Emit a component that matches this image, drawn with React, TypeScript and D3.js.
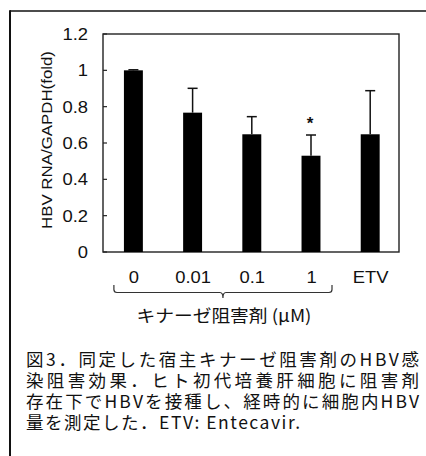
import React from "react";
import * as d3 from "d3";

const categories = ["0", "0.01", "0.1", "1", "ETV"];
const values = [1.0, 0.767, 0.648, 0.53, 0.648];
const errors = [0.003, 0.134, 0.097, 0.114, 0.24];
const significant = [false, false, false, true, false];
const yTicks = [0, 0.2, 0.4, 0.6, 0.8, 1, 1.2];
const yTitle = "HBV RNA/GAPDH(fold)";
const braceLabel = "キナーゼ阻害剤 (μM)";
const braceGroup = ["0", "1"];
const captionLines = [
  "図3．同定した宿主キナーゼ阻害剤のHBV感",
  "染阻害効果．ヒト初代培養肝細胞に阻害剤",
  "存在下でHBVを接種し、経時的に細胞内HBV",
  "量を測定した．ETV: Entecavir.",
];

const W = 426;
const H = 456;
const plot = { left: 103, top: 34, right: 399, bottom: 252 };
const sans = "'Liberation Sans', Arial, Helvetica, sans-serif";
const cjk = "'Noto Sans CJK JP', sans-serif";

export default function App() {
  const x = d3
    .scaleBand<string>()
    .domain(categories)
    .range([plot.left + 0.8, plot.right + 0.8])
    .padding(0);
  const y = d3.scaleLinear().domain([0, 1.2]).range([plot.bottom, plot.top]);
  const barW = x.bandwidth() * 0.32;
  const cx = (c: string) => (x(c) as number) + x.bandwidth() / 2;

  // brace
  const bL = cx(braceGroup[0]) - 19.5;
  const bR = cx(braceGroup[1]) + 21;
  const bM = (bL + bR) / 2;
  const bTop = 285;
  const bBot = 292.5;
  const bTip = 298;
  const r = 3;
  const p = d3.path();
  p.moveTo(bL, bTop);
  p.lineTo(bL, bBot - r);
  p.quadraticCurveTo(bL, bBot, bL + r, bBot);
  p.lineTo(bM - r, bBot);
  p.quadraticCurveTo(bM, bBot, bM, bTip);
  p.quadraticCurveTo(bM, bBot, bM + r, bBot);
  p.lineTo(bR - r, bBot);
  p.quadraticCurveTo(bR, bBot, bR, bBot - r);
  p.lineTo(bR, bTop);

  return (
    <svg
      width={W}
      height={H}
      style={{ position: "absolute", left: 0, top: 0, background: "#fff" }}
    >
      <rect x={0} y={0} width={W} height={H} fill="#fff" />
      {/* outer frame */}
      <line x1={10} y1={11} x2={W} y2={11} stroke="#111" strokeWidth={1.6} />
      <line x1={10} y1={10.2} x2={10} y2={H} stroke="#111" strokeWidth={2} />

      {/* plot frame */}
      <rect
        x={plot.left}
        y={plot.top}
        width={plot.right - plot.left}
        height={plot.bottom - plot.top}
        fill="none"
        stroke="#222"
        strokeWidth={1.4}
      />

      {/* y ticks and labels */}
      {yTicks.map((t) => (
        <g key={t}>
          <line
            x1={plot.left}
            x2={plot.left + 4}
            y1={y(t)}
            y2={y(t)}
            stroke="#222"
            strokeWidth={1.2}
          />
          <text
            transform={`translate(88,${y(t) + 6}) scale(1.15,1)`}
            textAnchor="end"
            fontFamily={sans}
            fontSize={16}
            fill="#111"
          >
            {String(t)}
          </text>
        </g>
      ))}

      {/* y title */}
      <text
        transform={`translate(52,140) rotate(-90)`}
        textAnchor="middle"
        fontFamily={sans}
        fontSize={15}
        fill="#111"
        textLength={178}
        lengthAdjust="spacingAndGlyphs"
      >
        {yTitle}
      </text>

      {/* bars */}
      {categories.map((c, i) => {
        const xc = cx(c);
        const top = y(values[i]);
        const eTop = y(values[i] + errors[i]);
        return (
          <g key={c}>
            <rect
              x={xc - barW / 2}
              y={top}
              width={barW}
              height={plot.bottom - top}
              fill="#000"
            />
            <line x1={xc} x2={xc} y1={top} y2={eTop} stroke="#111" strokeWidth={1.5} />
            <line
              x1={xc - 5}
              x2={xc + 5}
              y1={eTop}
              y2={eTop}
              stroke="#111"
              strokeWidth={1.5}
            />
            {significant[i] && (
              <text
                x={xc - 1}
                y={eTop - 6}
                textAnchor="middle"
                fontFamily={sans}
                fontSize={17}
                fontWeight="bold"
                fill="#111"
              >
                *
              </text>
            )}
          </g>
        );
      })}

      {/* x labels */}
      {categories.map((c) => (
        <text
          key={c}
          transform={`translate(${cx(c) + 0.5},282.5) scale(1.15,1)`}
          textAnchor="middle"
          fontFamily={sans}
          fontSize={16}
          fill="#111"
        >
          {c}
        </text>
      ))}

      {/* brace */}
      <path d={p.toString()} fill="none" stroke="#333" strokeWidth={1.2} />
      <text
        x={bM + 1}
        y={322}
        textAnchor="middle"
        fontFamily={cjk}
        fontSize={17}
        fill="#111"
        textLength={175}
        lengthAdjust="spacingAndGlyphs"
      >
        {braceLabel}
      </text>

      {/* caption */}
      {captionLines.map((line, i) => (
        <text
          key={i}
          x={26}
          y={366 + i * 21}
          fontFamily={cjk}
          fontSize={17.5}
          fill="#111"
          textLength={i < 3 ? 393 : 274}
          lengthAdjust="spacing"
        >
          {line}
        </text>
      ))}
    </svg>
  );
}
